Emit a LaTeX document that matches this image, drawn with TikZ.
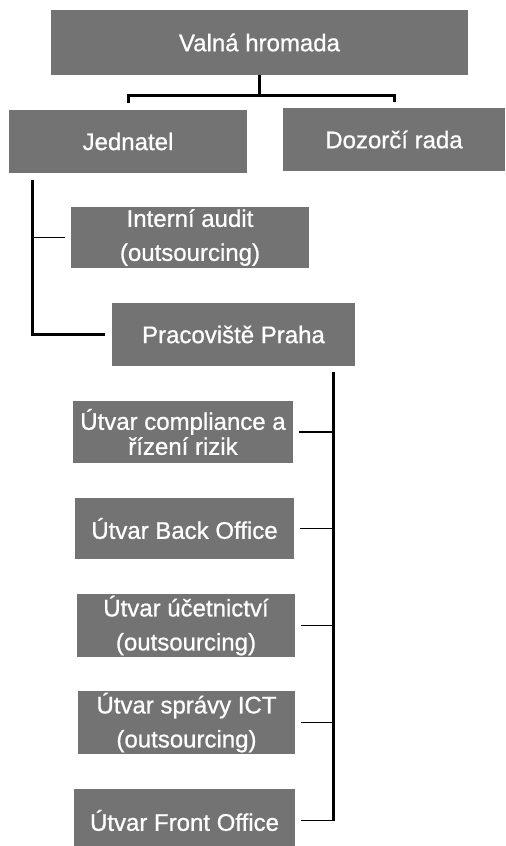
\documentclass[tikz,border=0pt]{standalone}
\usepackage{fontspec}
\setmainfont{Liberation Sans}
\newfontfamily\unitfont[FakeBold=0.8]{Liberation Sans}
\usetikzlibrary{positioning}
\definecolor{scangray}{rgb}{0.45, 0.45, 0.45}

\begin{document}
\begin{tikzpicture}[x=0.5pt,y=-0.5pt]
        \tikzstyle{unit}=[fill=scangray, text=white, inner sep=0pt, align=center, font=\unitfont\fontsize{12}{17}\selectfont]
        \tikzstyle{link}=[line width=1.5pt]
        \tikzstyle{twig}=[line width=0.8pt]
        \useasboundingbox (0,0) rectangle (505,846);

        % Top level
        \node (valna)[unit, minimum width=208.5pt, minimum height=32.5pt] at (259.5,42.5) {Valná hromada};
        \node (jed)[unit, minimum width=119pt, minimum height=31.5pt] at (128,141.5) {Jednatel};
        \node (dozor)[unit, minimum width=111pt, minimum height=31.5pt] at (394,139.5) {Dozorčí rada};

        % Below Jednatel
        \node (audit)[unit, minimum width=119pt, minimum height=30.5pt] at (190,237.5) {Interní audit\\(outsourcing)};
        \node (praha)[unit, minimum width=121.5pt, minimum height=31.5pt] at (233.5,334.5) {Pracoviště Praha};

        % Units of Pracoviště Praha
        \node (compl)[unit, minimum width=110pt, minimum height=31pt, font=\unitfont\fontsize{12}{12.5}\selectfont] at (183,432) {Útvar compliance a\\řízení rizik};
        \node (back)[unit, minimum width=109.5pt, minimum height=30.5pt] at (184.5,528.5) {Útvar Back Office};
        \node (ucet)[unit, minimum width=109pt, minimum height=31.5pt] at (186,625.5) {Útvar účetnictví\\(outsourcing)};
        \node (ict)[unit, minimum width=108.5pt, minimum height=31.5pt] at (186.5,722.5) {Útvar správy ICT\\(outsourcing)};
        \node (front)[unit, minimum width=110.5pt, minimum height=31.5pt] at (184.5,820.5) {Útvar Front Office};

        % Valná hromada to Jednatel and Dozorčí rada
        \draw[link] (valna.south) -- ++(0,20) coordinate (fork);
        \draw[link, shorten >=3.5pt] (fork) -| (jed.north);
        \draw[link, shorten >=3pt] (fork) -| (dozor.north);

        % Jednatel spine
        \coordinate (jedspine) at (32,180);
        \draw[link, shorten >=3.5pt] (jedspine) |- (praha.west);
        \draw[twig, shorten >=3pt] (jedspine |- audit.west) -- (audit.west);

        % Pracoviště Praha spine
        \coordinate (prahaspine) at (333,372);
        \draw[link] (prahaspine) -- (prahaspine |- front.east);
        \foreach \u in {compl,back,ucet,ict,front}
            \draw[twig, shorten >=3pt] (prahaspine |- \u.east) -- (\u.east);
    \end{tikzpicture}
\end{document}
